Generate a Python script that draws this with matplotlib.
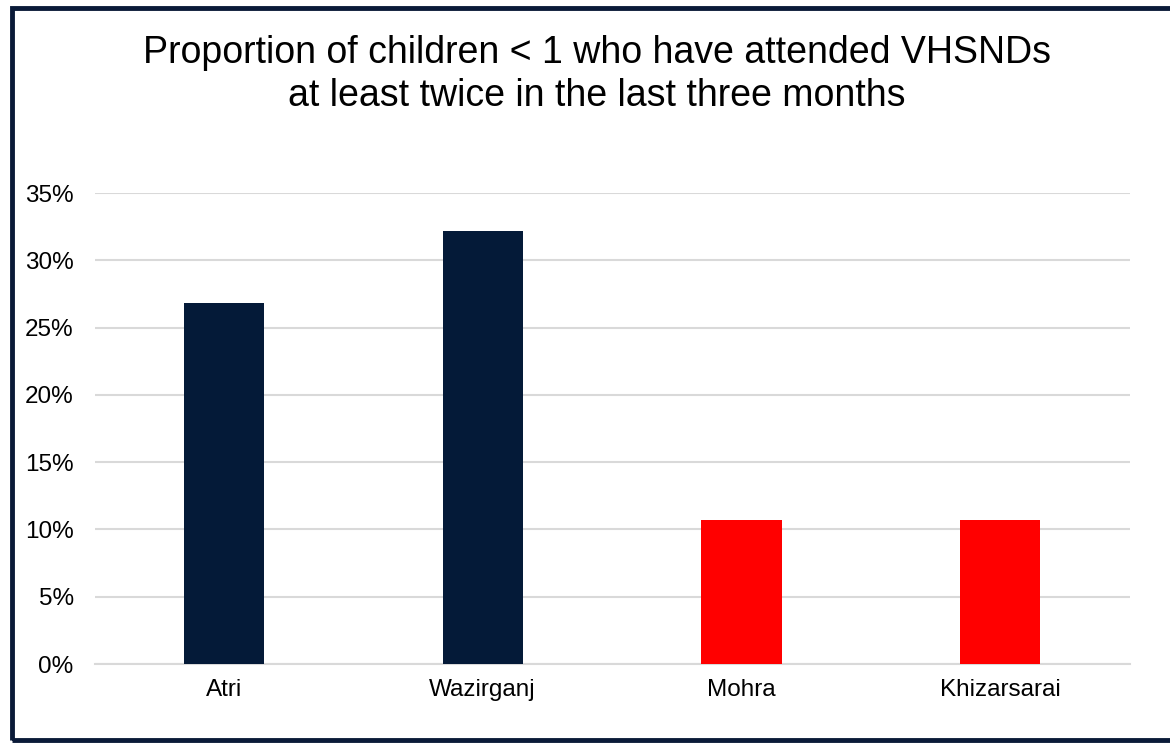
import matplotlib.pyplot as plt
from matplotlib.patches import Rectangle
from matplotlib.ticker import PercentFormatter

plt.rcParams['font.family'] = ['Liberation Sans', 'DejaVu Sans']

# data
blocks = ['Atri', 'Wazirganj', 'Mohra', 'Khizarsarai']
proportion = [0.268, 0.322, 0.107, 0.107]
bar_colors = ['#041A38', '#041A38', '#FF0000', '#FF0000']
y_ticks = [0, 0.05, 0.10, 0.15, 0.20, 0.25, 0.30, 0.35]

fig = plt.figure(figsize=(11.7, 7.43), dpi=100)
ax = fig.add_axes([0.0808, 0.1063, 0.8846, 0.6339])

ax.bar(range(len(blocks)), proportion, width=0.31, color=bar_colors, zorder=3)

ax.set_xlim(-0.5, len(blocks) - 0.5)
ax.set_ylim(0, 0.35)
ax.set_yticks(y_ticks)
ax.yaxis.set_major_formatter(PercentFormatter(1.0, decimals=0))
ax.set_xticks(range(len(blocks)))
ax.set_xticklabels(blocks)
ax.tick_params(axis='both', length=0, labelsize=17.5, colors='black')
ax.tick_params(axis='x', pad=11)
ax.tick_params(axis='y', pad=15)

ax.grid(axis='y', color='#D9D9D9', linewidth=1.5, zorder=0)
for side in ['top', 'right', 'left']:
    ax.spines[side].set_visible(False)
ax.spines['bottom'].set_color('#D9D9D9')
ax.spines['bottom'].set_linewidth(1.5)

fig.text(0.51, 0.9, 'Proportion of children < 1 who have attended VHSNDs\nat least twice in the last three months',
         ha='center', va='center', fontsize=27, linespacing=1.25)

# dark frame around the chart area
fig.patches.append(Rectangle((0.0103, 0.004), 1.02, 0.985, transform=fig.transFigure,
                             fill=False, edgecolor='#0A1A38', linewidth=3.5))

fig.savefig('out.png', dpi=100)
